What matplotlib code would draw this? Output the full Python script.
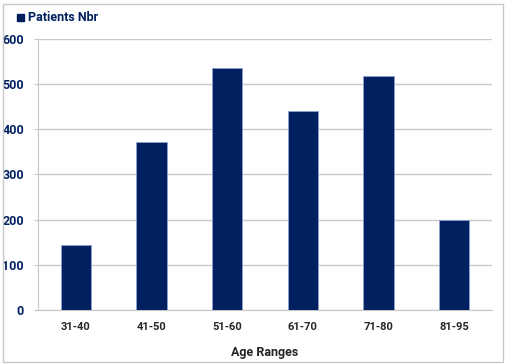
import matplotlib.pyplot as plt
from matplotlib.patches import Rectangle

# data
age_ranges = ['31-40', '41-50', '51-60', '61-70', '71-80', '81-95']
patients = [145, 373, 536, 441, 518, 200]

navy = '#002060'
plt.rcParams['font.family'] = ['Roboto', 'DejaVu Sans']
plt.rcParams['font.weight'] = 'bold'

fig = plt.figure(figsize=(5.05, 3.64), dpi=100)
ax = fig.add_axes([38 / 505, 1 - 310 / 364, 454 / 505, 271 / 364])

ax.bar(range(len(age_ranges)), patients, width=0.4, color=navy,
       edgecolor='#8ea0d0', linewidth=0.6, zorder=3)

ax.set_xlim(-0.5, len(age_ranges) - 0.5)
ax.set_ylim(0, 600)
ax.set_yticks(range(0, 601, 100))
ax.set_xticks(range(len(age_ranges)))
ax.set_xticklabels(age_ranges)
ax.grid(axis='y', color='#c8c8c8', linewidth=1, zorder=0)

for s in ['top', 'right']:
    ax.spines[s].set_visible(False)
ax.spines['left'].set_color('#c8c8c8')
ax.spines['bottom'].set_color('#c8c8c8')
ax.tick_params(axis='y', length=3, color='#c8c8c8', pad=7, labelsize=9,
               labelcolor=navy)
ax.tick_params(axis='x', length=0, pad=9, labelsize=8, labelcolor='#262626')
for lab in ax.get_xticklabels() + ax.get_yticklabels():
    lab.set_fontweight('bold')

ax.set_xlabel('Age Ranges', fontsize=9, fontweight='bold', color='#262626',
              labelpad=10)

# legend in the top left corner
fig.patches.append(Rectangle((17 / 505, 1 - 21 / 364), 7 / 505, 7 / 364,
                             transform=fig.transFigure, color=navy))
fig.text(28 / 505, 1 - 17.5 / 364, 'Patients Nbr', fontsize=9,
         fontweight='bold', color=navy, va='center', ha='left')

# outer frame
fig.patches.append(Rectangle((2.5 / 505, 2.5 / 364), 500 / 505, 358 / 364,
                             transform=fig.transFigure, fill=False,
                             edgecolor='#c8c8c8', linewidth=1))

fig.savefig('out.png', dpi=100)
